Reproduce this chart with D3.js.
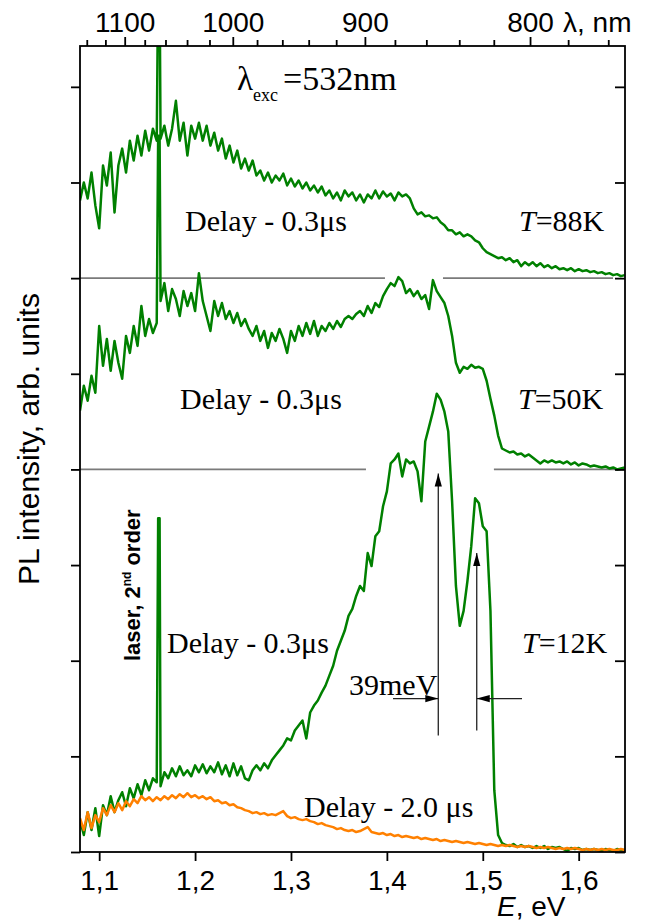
<!DOCTYPE html>
<html>
<head>
<meta charset="utf-8">
<script src="https://cdn.jsdelivr.net/npm/d3@7"></script>
<style>
body { margin: 0; background: #fff; }
text { fill: #000; }
</style>
</head>
<body>
<svg id="chart" width="648" height="923"></svg>
<script>
// spectra are sampled on a regular energy grid (eV)
const E_START = 1.080, E_STEP = 0.004;
// laser line, 2nd order of 532 nm
const laserE = [1.1615, 1.1630];
const laserPeak = [300, 335, 335];          // 88K, 50K, 12K
const offsets = [576, 384, 0];              // vertical shift of each spectrum
const temps = ["88K", "50K", "12K"];

// PL intensity, delay 0.3 us
const pl88 = [
    78, 96, 80, 106, 73, 50, 113, 93, 126, 66,
    113, 130, 106, 138, 118, 143, 123, 148, 128, 150,
    138, 140, 153, 133, 150, 178, 138, 156, 123, 153,
    140, 156, 138, 153, 133, 146, 128, 140, 120, 133,
    116, 128, 110, 120, 108, 118, 103, 108, 98, 106,
    96, 103, 98, 105, 93, 100, 92, 98, 90, 96,
    88, 93, 86, 92, 83, 88, 80, 86, 78, 88,
    82, 86, 78, 84, 76, 84, 80, 88, 80, 87,
    82, 85, 78, 86, 82, 84, 80, 70, 64, 66,
    62, 63, 60, 61, 56, 53, 48, 48, 44, 46,
    42, 44, 42, 38, 36, 30, 26, 24, 22, 20,
    21, 18, 20, 16, 18, 12, 16, 13, 16, 12,
    15, 11, 13, 10, 12, 9, 10, 8, 10, 7,
    9, 7, 8, 6, 7, 5, 6, 4, 5, 3,
    4, 2, 3
];
const pl50 = [
    59, 84, 69, 94, 77, 144, 104, 131, 99, 129,
    107, 91, 134, 117, 144, 124, 164, 134, 151, 137,
    147, 169, 187, 159, 181, 171, 154, 179, 164, 177,
    159, 197, 169, 154, 139, 169, 154, 167, 151, 159,
    147, 157, 144, 151, 141, 134, 144, 129, 139, 122,
    137, 129, 141, 131, 117, 139, 129, 144, 134, 147,
    136, 149, 134, 144, 139, 147, 141, 149, 143, 151,
    154, 151, 156, 159, 154, 164, 157, 167, 163, 174,
    181, 187, 184, 193, 189, 177, 181, 174, 179, 171,
    175, 161, 190, 179, 173, 167, 154, 134, 107, 97,
    103, 101, 105, 102, 103, 101, 89, 71, 54, 34,
    21, 19, 17, 18, 15, 16, 13, 15, 12, 9,
    6, 9, 7, 9, 7, 8, 6, 8, 5, 7,
    4, 6, 5, 3, 4, 3, 2, 3, 1, 2,
    0, 1, 2
];
const pl12 = [
    32, 17, 40, 22, 44, 16, 47, 37, 56, 40,
    52, 60, 46, 64, 54, 68, 57, 72, 62, 74,
    70, 66, 80, 74, 84, 76, 86, 77, 82, 76,
    87, 80, 88, 79, 86, 80, 90, 78, 87, 76,
    89, 77, 86, 74, 72, 82, 87, 82, 89, 84,
    92, 97, 102, 107, 114, 112, 122, 127, 132, 114,
    140, 147, 152, 160, 167, 177, 187, 202, 212, 222,
    237, 244, 257, 267, 262, 300, 287, 317, 322, 347,
    362, 390, 394, 400, 377, 394, 390, 392, 382, 352,
    412, 427, 442, 460, 454, 442, 422, 352, 267, 227,
    242, 272, 307, 355, 350, 327, 322, 242, 62, 17,
    9, 7, 6, 8, 5, 7, 5, 6, 4, 6,
    4, 6, 3, 5, 4, 5, 3, 1, 4, 3,
    4, 2, 3, 2, 3, 2, 1, 3, 2, 1,
    3, 2, 2
];
// PL intensity at 12K, delay 2.0 us
const pl12late = [
    34, 22, 40, 24, 37, 30, 44, 37, 47, 40,
    49, 42, 51, 46, 53, 49, 56, 52, 55, 51,
    55, 52, 56, 53, 57, 54, 58, 55, 59, 55,
    57, 54, 56, 53, 55, 51, 52, 49, 50, 47,
    48, 45, 44, 42, 41, 39, 40, 38, 39, 37,
    38, 37, 39, 41, 36, 34, 35, 33, 32, 33,
    31, 30, 28, 29, 27, 26, 25, 23, 24, 22,
    21, 22, 20, 21, 23, 25, 20, 19, 18, 19,
    17, 18, 16, 17, 15, 16, 15, 14, 15, 13,
    14, 13, 12, 13, 11, 12, 11, 10, 11, 10,
    9, 10, 9, 8, 9, 8, 7, 8, 7, 6,
    7, 6, 7, 6, 5, 6, 5, 6, 5, 4,
    5, 4, 5, 4, 3, 4, 3, 4, 3, 4,
    3, 2, 3, 2, 3, 2, 3, 2, 3, 2,
    2, 3, 2
];

// baselines of the shifted spectra, drawn with gaps
const sepLevels = [576, 384];
const sepSegments = [
    [[1.080, 1.398], [1.4585, 1.6358]],
    [[1.080, 1.3782], [1.5116, 1.6441]]
];
// 39 meV splitting marks
const arrowE = [1.4536, 1.4937];
const arrowFrom = [117, 122];
const arrowTo = [380, 300];
const markLevel = 154;
const markOuter = [1.4064, 1.5409];

// axes
const eMajor = [1.1, 1.2, 1.3, 1.4, 1.5, 1.6];
const eMinor = [1.15, 1.25, 1.35, 1.45, 1.55];
const lamMajor = [1100, 1000, 900, 800];
const lamMinor = [1140, 1120, 1080, 1060, 1040, 1020, 980, 960, 940, 920,
    880, 860, 840, 820, 780, 760];
const yMajor = [0, 96, 192, 288, 384, 480, 576, 672, 768];
const yMinor = [48, 144, 240, 336, 432, 528, 624, 720];

const SERIF = "'Liberation Serif', 'Times New Roman', serif";
const SANS = "'Liberation Sans', Arial, sans-serif";

const svg = d3.select("#chart");
const plot = { left: 80, right: 625, top: 46, bottom: 852 };

const x = d3.scaleLinear().domain([1.080, 1.6483]).range([plot.left, plot.right]);
const y = d3.scaleLinear().domain([0, 809]).range([plot.bottom, plot.top]);
const lamToE = l => 1239.84 / l;

const comma = d3.formatLocale({ decimal: ",", thousands: " ", grouping: [3], currency: ["", ""] }).format(".1f");

svg.append("defs").append("clipPath").attr("id", "clip")
    .append("rect")
    .attr("x", plot.left).attr("y", plot.top)
    .attr("width", plot.right - plot.left).attr("height", plot.bottom - plot.top);

//build the point list of one spectrum, with the laser line inserted
function spectrum(values, offset, peak) {
    let pts = values.map((v, i) => [E_START + i * E_STEP, v + offset]);
    if (peak != null) {
        let k = pts.findIndex(p => p[0] > laserE[0]);
        pts.splice(k, 0, [laserE[0], peak + offset], [laserE[1], peak + offset]);
    }
    return pts;
}

const line = d3.line().x(d => x(d[0])).y(d => y(d[1]));

// separator lines
sepLevels.forEach(function (lv, j) {
    svg.append("g").selectAll("line")
        .data(sepSegments[j])
        .join("line")
        .attr("x1", d => x(d[0])).attr("x2", d => x(d[1]))
        .attr("y1", y(lv)).attr("y2", y(lv))
        .attr("stroke", "#7a7a7a")
        .attr("stroke-width", 1.6);
});

const curves = svg.append("g").attr("clip-path", "url(#clip)");
[pl88, pl50, pl12].forEach(function (vals, j) {
    curves.append("path")
        .datum(spectrum(vals, offsets[j], laserPeak[j]))
        .attr("d", line)
        .attr("fill", "none")
        .attr("stroke", "#008000")
        .attr("stroke-width", 2.5)
        .attr("stroke-linejoin", "round");
});
curves.append("path")
    .datum(spectrum(pl12late, 0, null))
    .attr("d", line)
    .attr("fill", "none")
    .attr("stroke", "#ff8000")
    .attr("stroke-width", 2.5)
    .attr("stroke-linejoin", "round");

// arrows
function arrow(x1, y1, x2, y2) {
    let g = svg.append("g");
    g.append("line")
        .attr("x1", x1).attr("y1", y1).attr("x2", x2).attr("y2", y2)
        .attr("stroke", "#222").attr("stroke-width", 1.3);
    let a = Math.atan2(y2 - y1, x2 - x1), L = 13, w = 3.6;
    let bx = x2 - L * Math.cos(a), by = y2 - L * Math.sin(a);
    let px = -Math.sin(a) * w, py = Math.cos(a) * w;
    g.append("path")
        .attr("d", `M${x2},${y2}L${bx + px},${by + py}L${bx - px},${by - py}Z`)
        .attr("fill", "#000");
}
arrowE.forEach(function (e, j) {
    arrow(x(e), y(arrowFrom[j]), x(e), y(arrowTo[j]));
    arrow(x(markOuter[j]), y(markLevel), x(e), y(markLevel));
});

// annotations
function serifText(t, px, py, size) {
    return svg.append("text")
        .attr("x", px).attr("y", py)
        .style("font-family", SERIF)
        .style("font-size", size + "px")
        .text(t);
}
const lab = svg.append("text").attr("x", 237).attr("y", 90)
    .style("font-family", SERIF).style("font-size", "33px");
lab.append("tspan").text("λ");
lab.append("tspan").attr("dy", 11).style("font-size", "18px").text("exc");
serifText("=532nm", 283, 90, 34);

const delayY = [231, 409, 653];
const delayX = [185, 180, 167];
const tempX = [519, 518, 522];
temps.forEach(function (t, j) {
    serifText("Delay - 0.3μs", delayX[j], delayY[j], 30);
    let tt = svg.append("text").attr("x", tempX[j]).attr("y", delayY[j])
        .style("font-family", SERIF).style("font-size", "30px");
    tt.append("tspan").style("font-style", "italic").text("T");
    tt.append("tspan").text("=" + t);
});
serifText("Delay - 2.0 μs", 304, 817, 30);
serifText("39meV", 349, 695, 30);

const laser = svg.append("text")
    .attr("transform", "translate(140,661) rotate(-90)")
    .style("font-family", SANS).style("font-weight", "bold").style("font-size", "22px");
laser.append("tspan").text("laser, 2");
laser.append("tspan").attr("dy", -9).style("font-size", "12px").text("nd");
laser.append("tspan").attr("dy", 9).text(" order");

// axes
const gB = svg.append("g").attr("transform", `translate(0,${plot.bottom})`);
gB.call(d3.axisBottom(x).tickValues(eMinor).tickSize(5).tickFormat(""));
gB.call(d3.axisBottom(x).tickValues(eMajor).tickSize(9).tickPadding(9).tickFormat(comma));

const gL = svg.append("g").attr("transform", `translate(${plot.left},0)`);
gL.call(d3.axisLeft(y).tickValues(yMinor).tickSize(5).tickFormat(""));
gL.call(d3.axisLeft(y).tickValues(yMajor).tickSize(9).tickFormat(""));

const gR = svg.append("g").attr("transform", `translate(${plot.right},0)`);
gR.call(d3.axisRight(y).tickValues(yMinor).tickSize(-6).tickFormat(""));
gR.call(d3.axisRight(y).tickValues(yMajor).tickSize(-10).tickFormat(""));

svg.selectAll(".domain").remove();
svg.selectAll(".tick line").attr("stroke", "#000").attr("stroke-width", 1.8);
svg.selectAll(".tick text")
    .style("font-family", SANS).style("font-size", "28px").attr("fill", "#000");

// top axis in wavelength
const gT = svg.append("g");
gT.selectAll("line.minor").data(lamMinor).join("line")
    .attr("class", "minor")
    .attr("x1", d => x(lamToE(d))).attr("x2", d => x(lamToE(d)))
    .attr("y1", plot.top).attr("y2", plot.top - 6)
    .attr("stroke", "#000").attr("stroke-width", 1.8);
gT.selectAll("line.major").data(lamMajor).join("line")
    .attr("class", "major")
    .attr("x1", d => x(lamToE(d))).attr("x2", d => x(lamToE(d)))
    .attr("y1", plot.top).attr("y2", plot.top - 9)
    .attr("stroke", "#000").attr("stroke-width", 1.8);
gT.selectAll("text").data(lamMajor).join("text")
    .attr("x", d => x(lamToE(d))).attr("y", 32)
    .attr("text-anchor", "middle")
    .style("font-family", SANS).style("font-size", "28px")
    .text(d => d);
svg.append("text").attr("x", 563).attr("y", 32)
    .style("font-family", SANS).style("font-size", "28px")
    .text("λ, nm");

// frame
svg.append("rect")
    .attr("x", plot.left).attr("y", plot.top)
    .attr("width", plot.right - plot.left).attr("height", plot.bottom - plot.top)
    .attr("fill", "none").attr("stroke", "#000").attr("stroke-width", 1.8);

// axis titles
const xt = svg.append("text").attr("x", 497).attr("y", 916)
    .style("font-family", SANS).style("font-size", "28px");
xt.append("tspan").style("font-style", "italic").text("E");
xt.append("tspan").text(", eV");

svg.append("text")
    .attr("transform", "translate(39,439) rotate(-90)")
    .attr("text-anchor", "middle")
    .style("font-family", SANS).style("font-size", "30px")
    .text("PL intensity, arb. units");
</script>
</body>
</html>
